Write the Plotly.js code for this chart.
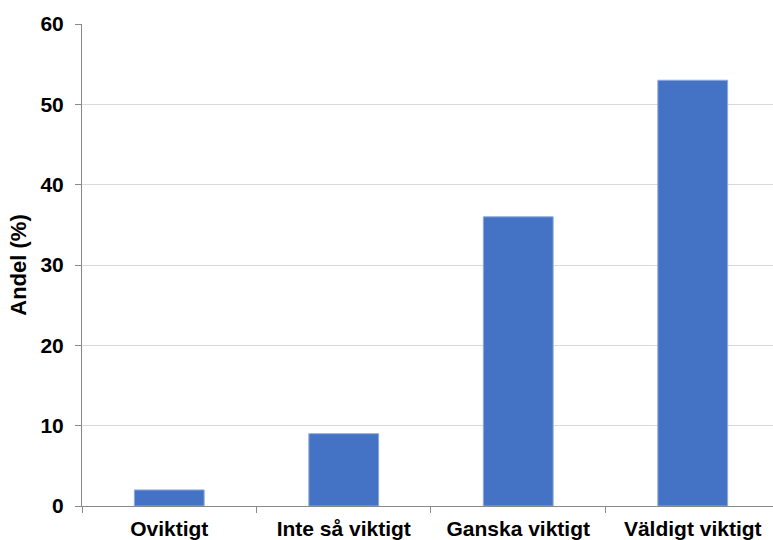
<!DOCTYPE html>
<html>
<head>
<meta charset="utf-8">
<script src="https://cdn.plot.ly/plotly-3.0.1.min.js"></script>
<style>html,body{margin:0;padding:0;background:#fff;}#chart{width:773px;height:540px;}</style>
</head>
<body>
<div id="chart"></div>
<script>
const categories = ["Oviktigt", "Inte så viktigt", "Ganska viktigt", "Väldigt viktigt"];
const values = [2, 9, 36, 53];
const yTicks = [0, 10, 20, 30, 40, 50, 60];
const yTitle = "Andel (%)";

const font = "Liberation Sans, Arial, sans-serif";

Plotly.newPlot("chart", [{
  type: "bar",
  x: categories,
  y: values,
  marker: {color: "#4472C4", line: {color: "#8FAADC", width: 1}},
  hoverinfo: "skip"
}], {
  width: 773, height: 540,
  margin: {l: 82, r: 0, t: 24, b: 34},
  paper_bgcolor: "#fff", plot_bgcolor: "#fff",
  bargap: 0.6,
  showlegend: false,
  font: {family: font, color: "#000"},
  xaxis: {
    type: "category",
    range: [-0.5, 3.46],
    tickson: "boundaries",
    ticks: "outside", ticklen: 6, tickcolor: "#898989", tickwidth: 1,
    showline: true, linecolor: "#898989", linewidth: 1,
    showgrid: false, zeroline: false,
    tickfont: {family: font, size: 21, color: "#000", weight: "bold"},
    ticklabelstandoff: 4
  },
  yaxis: {
    range: [0, 60],
    tickvals: yTicks,
    ticktext: yTicks.map(String),
    ticks: "outside", ticklen: 6, tickcolor: "#898989", tickwidth: 1,
    showline: true, linecolor: "#898989", linewidth: 1,
    showgrid: true, gridcolor: "#D9D9D9", gridwidth: 1,
    zeroline: false,
    tickfont: {family: font, size: 21, color: "#000", weight: "bold"},
    ticklabelstandoff: 7,
    title: {text: yTitle, font: {family: font, size: 22, color: "#000", weight: "bold"}, standoff: 7}
  }
}, {displayModeBar: false, staticPlot: true});
</script>
</body>
</html>
